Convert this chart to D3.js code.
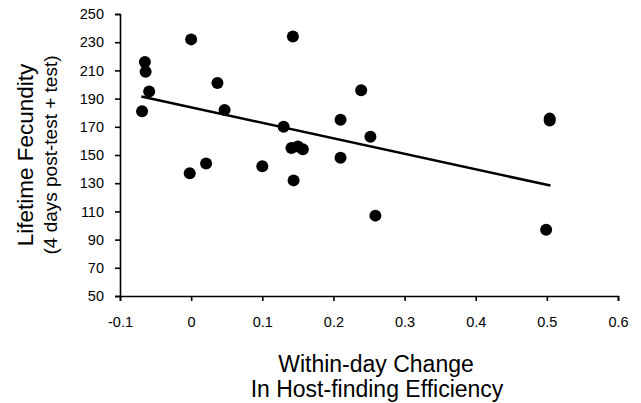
<!DOCTYPE html>
<html>
<head>
<meta charset="utf-8">
<script src="https://cdn.jsdelivr.net/npm/d3@7"></script>
<style>
  body { margin: 0; background: #fff; }
  svg text { font-family: "Liberation Sans", Arial, sans-serif; fill: #000; }
</style>
</head>
<body>
<div id="chart"></div>
<script>
// data
const efficiency = [-0.065, -0.064, -0.059, -0.069, 0.000, 0.037, 0.047, -0.002, 0.021, 0.100,
                    0.130, 0.143, 0.141, 0.150, 0.157, 0.144, 0.239, 0.210, 0.252, 0.210,
                    0.504, 0.504, 0.259, 0.499];
const fecundity = [216, 209, 195, 181, 232, 201, 182, 137, 144, 142,
                   170, 234, 155, 156, 154, 132, 196, 175, 163, 148,
                   175.8, 174.4, 107, 97];
// fitted trend line end points
const trendX = [-0.070, 0.505];
const trendY = [191.5, 128.3];
const xTicks = [-0.1, 0, 0.1, 0.2, 0.3, 0.4, 0.5, 0.6];
const yTicks = [50, 70, 90, 110, 130, 150, 170, 190, 210, 230, 250];

const W = 641, H = 403;
const svg = d3.select("#chart").append("svg")
    .attr("width", W)
    .attr("height", H);

const x = d3.scaleLinear().domain([-0.1, 0.6]).range([120, 618]);
const y = d3.scaleLinear().domain([50, 250]).range([296, 14]);

// axes (plain hyphen for negatives, like the original)
const fmtX = d => d === 0 ? "0" : (d < 0 ? "-" : "") + d3.format(".1f")(Math.abs(d));
const xAxis = svg.append("g")
    .attr("transform", `translate(0,${y(50)})`)
    .call(d3.axisBottom(x).tickValues(xTicks).tickSize(5).tickPadding(16).tickFormat(fmtX));
const yAxis = svg.append("g")
    .attr("transform", `translate(${x(-0.1)},0)`)
    .call(d3.axisLeft(y).tickValues(yTicks).tickSize(5).tickPadding(11));

[xAxis, yAxis].forEach(g => {
  g.select(".domain").attr("stroke", "#000").attr("stroke-width", 1.6);
  g.selectAll(".tick line").attr("stroke", "#000").attr("stroke-width", 1.6);
  g.selectAll(".tick text").style("font-size", "14.5px").attr("fill", "#000");
});

// trend line
svg.append("path")
    .datum(trendX.map((v, i) => [v, trendY[i]]))
    .attr("d", d3.line().x(d => x(d[0])).y(d => y(d[1])))
    .attr("fill", "none")
    .attr("stroke", "#000")
    .attr("stroke-width", 2.6);

// points
svg.selectAll("circle.pt")
  .data(efficiency.map((v, i) => ({ x: v, y: fecundity[i] })))
  .join("circle")
    .attr("class", "pt")
    .attr("cx", d => x(d.x))
    .attr("cy", d => y(d.y))
    .attr("r", 6)
    .attr("fill", "#000");

// axis titles
svg.append("text")
    .attr("transform", "translate(33,155) rotate(-90)")
    .attr("text-anchor", "middle")
    .style("font-size", "22.5px")
    .text("Lifetime Fecundity");
svg.append("text")
    .attr("transform", "translate(57,155) rotate(-90)")
    .attr("text-anchor", "middle")
    .style("font-size", "19px")
    .text("(4 days post-test + test)");

svg.append("text")
    .attr("x", 376).attr("y", 372)
    .attr("text-anchor", "middle")
    .style("font-size", "23px")
    .text("Within-day Change");
svg.append("text")
    .attr("x", 377).attr("y", 397)
    .attr("text-anchor", "middle")
    .style("font-size", "23px")
    .text("In Host-finding Efficiency");
</script>
</body>
</html>
